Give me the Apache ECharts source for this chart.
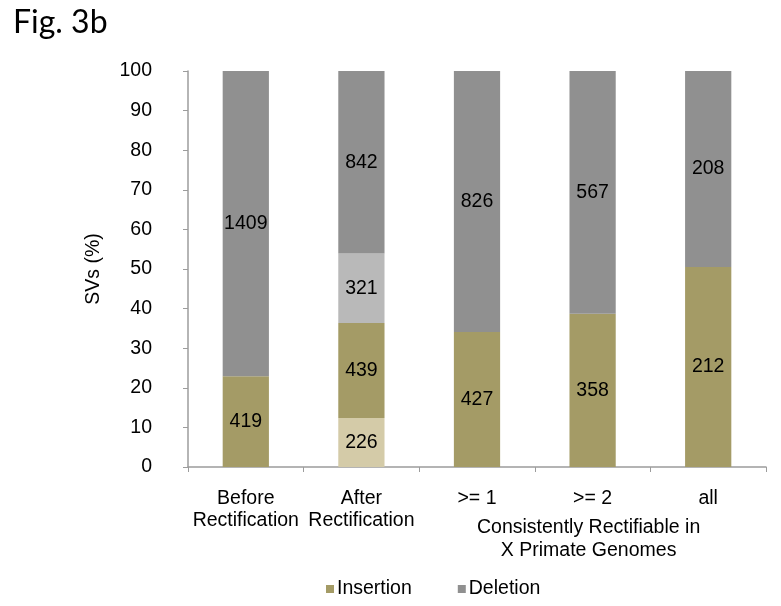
<!DOCTYPE html>
<html>
<head>
<meta charset="utf-8">
<script src="https://cdn.jsdelivr.net/npm/echarts@6/dist/echarts.min.js"></script>
<style>
html,body{margin:0;padding:0;background:#fff;}
#c{width:781px;height:606px;}
</style>
</head>
<body>
<div id="c"></div>
<script>
// ---- data (counts of SVs) ----
const categories = ['Before\nRectification', 'After\nRectification', '>= 1', '>= 2', 'all'];
const insertionLight = [null, 226, null, null, null];
const insertion = [419, 439, 427, 358, 212];
const deletionLight = [null, 321, null, null, null];
const deletion = [1409, 842, 826, 567, 208];
const yTicks = [0, 10, 20, 30, 40, 50, 60, 70, 80, 90, 100];
const groupLabel = 'Consistently Rectifiable in\nX Primate Genomes';

const FONT = '"Liberation Sans", Arial, Helvetica, sans-serif';
const FS = 19.5;

const totals = categories.map((_, i) =>
  (insertionLight[i] || 0) + (insertion[i] || 0) + (deletionLight[i] || 0) + (deletion[i] || 0));
const pct = arr => arr.map((v, i) => v == null ? null : v / totals[i] * 100);

function mkSeries(name, arr, color) {
  return {
    name: name,
    type: 'bar',
    stack: 'sv',
    barWidth: '40%',
    data: pct(arr),
    itemStyle: { color: color },
    label: {
      show: true,
      position: 'inside',
      color: '#000',
      fontFamily: FONT,
      fontSize: FS,
      formatter: p => arr[p.dataIndex] == null ? '' : String(arr[p.dataIndex])
    },
    emphasis: { disabled: true },
    animation: false
  };
}

const chart = echarts.init(document.getElementById('c'), null, { renderer: 'canvas' });
chart.setOption({
  animation: false,
  textStyle: { fontFamily: FONT },
  title: {
    text: 'Fig. 3b',
    left: 8,
    top: 2,
    textStyle: { fontFamily: 'Lato, "Open Sans", sans-serif', fontSize: 32, fontWeight: 'normal', color: '#000' }
  },
  grid: { left: 188, right: 15, top: 71, bottom: 139, containLabel: false },
  legend: {
    data: ['Insertion', 'Deletion'],
    left: 321,
    top: 574,
    itemWidth: 8,
    itemHeight: 8,
    itemGap: 46,
    icon: 'rect',
    textStyle: { fontFamily: FONT, fontSize: FS, color: '#000', padding: [0, 0, 0, -2] }
  },
  xAxis: {
    type: 'category',
    data: categories,
    axisLine: { lineStyle: { color: '#9c9c9c', width: 1.5 } },
    axisTick: { show: true, length: 5, lineStyle: { color: '#9c9c9c' } },
    axisLabel: { color: '#000', fontFamily: FONT, fontSize: FS, lineHeight: 22, margin: 21, interval: 0 }
  },
  yAxis: {
    type: 'value',
    min: 0,
    max: 100,
    interval: 10,
    name: 'SVs (%)',
    nameLocation: 'middle',
    nameGap: 84,
    nameTextStyle: { color: '#000', fontFamily: FONT, fontSize: FS },
    axisLine: { show: true, lineStyle: { color: '#9c9c9c', width: 1.5 } },
    axisTick: { show: true, length: 5, lineStyle: { color: '#9c9c9c' } },
    splitLine: { show: false },
    axisLabel: {
      color: '#000', fontFamily: FONT, fontSize: FS, margin: 36,
      formatter: v => yTicks.indexOf(v) >= 0 ? String(v) : ''
    }
  },
  series: [
    mkSeries('Insertion (prior)', insertionLight, '#D4CBA8'),
    mkSeries('Insertion', insertion, '#A49B66'),
    mkSeries('Deletion (prior)', deletionLight, '#B9B9B9'),
    mkSeries('Deletion', deletion, '#909090')
  ]
});

const cx = chart.convertToPixel({ xAxisIndex: 0 }, categories[3]);
chart.setOption({
  graphic: [{
    type: 'text',
    x: cx - 4,
    y: 516,
    style: {
      text: groupLabel,
      fill: '#000',
      font: FS + 'px ' + FONT,
      align: 'center',
      verticalAlign: 'top',
      lineHeight: 23
    }
  }]
});
</script>
</body>
</html>
